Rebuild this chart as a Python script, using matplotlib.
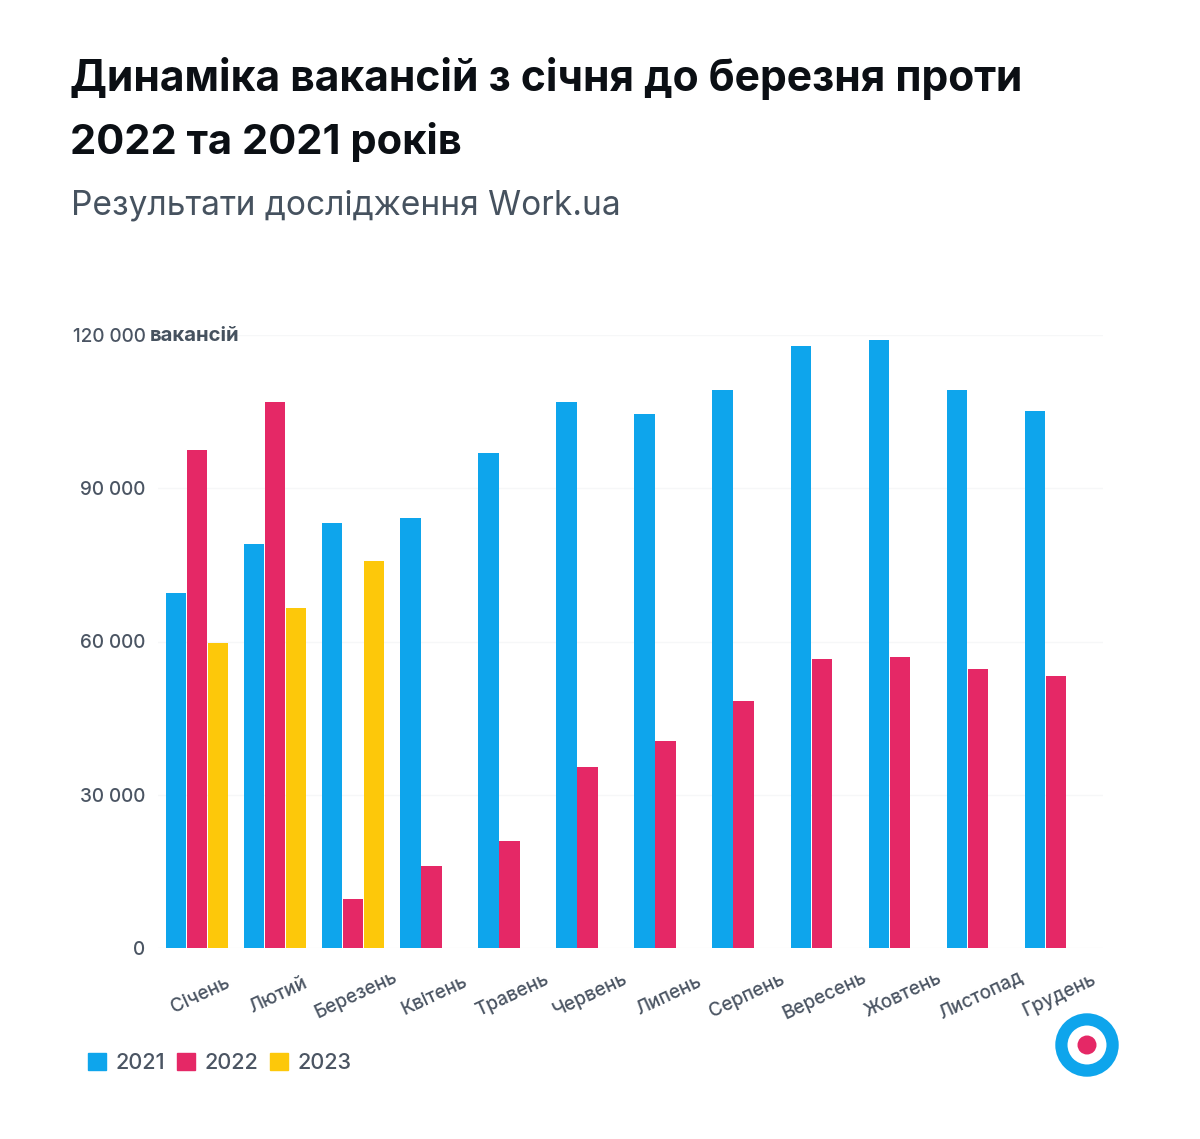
import matplotlib
matplotlib.use("Agg")
import matplotlib.pyplot as plt
from matplotlib.patches import Circle, Patch
import numpy as np

months = ["Січень", "Лютий", "Березень", "Квітень", "Травень", "Червень", "Липень",
          "Серпень", "Вересень", "Жовтень", "Листопад", "Грудень"]
v2021 = [69500, 79100, 83200, 84200, 96900, 106900, 104500, 109200, 117800, 119000, 109200, 105100]
v2022 = [97500, 106900, 9600, 16000, 20900, 35400, 40500, 48300, 56600, 56900, 54600, 53200]
v2023 = [59700, 66500, 75700]
years = ["2021", "2022", "2023"]
colors = ["#0ea5ec", "#e52866", "#fdc80a"]
yticks = [0, 30000, 60000, 90000, 120000]
ylabels = ["0", "30 000", "60 000", "90 000", "120 000"]
title = "Динаміка вакансій з січня до березня проти\n2022 та 2021 років"
subtitle = "Результати дослідження Work.ua"
unit = "вакансій"

W, H = 1200, 1139
plt.rcParams["font.family"] = ["Inter", "DejaVu Sans"]
fig = plt.figure(figsize=(W / 100, H / 100), dpi=100, facecolor="white")

L, R, T, B = 158, 1103, 335, 948
ax = fig.add_axes([L / W, 1 - B / H, (R - L) / W, (B - T) / H])
sp = 78.1
ax.set_xlim((L - 197) / sp, (R - 197) / sp)
ax.set_ylim(0, 120000)
w = 20.5 / sp
gap = 21 / sp
x = np.arange(len(months))
ax.bar(x - gap, v2021, w, color=colors[0], zorder=3)
ax.bar(x, v2022, w, color=colors[1], zorder=3)
ax.bar(x[:3] + gap, v2023, w, color=colors[2], zorder=3)

for s in ax.spines.values():
    s.set_visible(False)
ax.set_axisbelow(True)
ax.grid(axis="y", color="#f6f7f8", lw=1)
ax.set_yticks(yticks)
ax.set_yticklabels(ylabels, fontsize=13.6, color="#4b5563", fontweight="medium")
ax.tick_params(axis="y", length=0, pad=9)
ax.set_xticks(x + 3 / sp)
ax.set_xticklabels(months, rotation=25, ha="center", va="center", rotation_mode="anchor",
                   fontsize=13.6, color="#4b5563", fontweight="medium")
ax.tick_params(axis="x", length=0, pad=34)

def px(a, b):
    return a / W, 1 - b / H

line1, line2 = title.split("\n")
fig.text(*px(70, 79), line1, fontsize=30.7, fontweight="bold", color="#0b0f14", va="center")
fig.text(*px(70, 142), line2, fontsize=30, fontweight="bold", color="#0b0f14", va="center")
fig.text(*px(71, 206), subtitle, fontsize=24.1, color="#46525f", va="center")
fig.text(*px(150, 336), unit, fontsize=14.6, fontweight="bold", color="#46525f", va="center")

handles = [Patch(color=c, label=y) for c, y in zip(colors, years)]
fig.legend(handles=handles, loc="center left", bbox_to_anchor=px(77, 1063), frameon=False,
           labelcolor="#4b5563", handlelength=0.85, handleheight=0.85,
           handletextpad=0.42, columnspacing=0.54, ncol=3, borderaxespad=0, borderpad=0.5,
           prop={"size": 15.6, "weight": "medium"})

ov = fig.add_axes([0, 0, 1, 1], facecolor="none")
ov.set_xlim(0, W)
ov.set_ylim(H, 0)
ov.axis("off")
ov.add_patch(Circle((1087, 1045), 25.6, fc="none", ec=colors[0], lw=8.8))
ov.add_patch(Circle((1087, 1045), 9.5, fc=colors[1], ec="none"))

fig.savefig("out.png", dpi=100)
